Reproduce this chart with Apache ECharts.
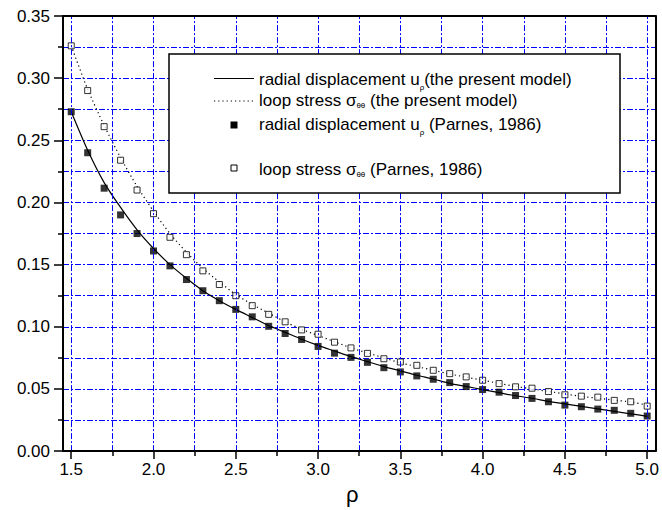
<!DOCTYPE html>
<html>
<head>
<meta charset="utf-8">
<title>Radial displacement and loop stress vs ρ</title>
<script src="https://cdn.jsdelivr.net/npm/echarts@6/dist/echarts.min.js"></script>
<style>
  html, body { margin: 0; padding: 0; background: #fff; }
  #chart { width: 662px; height: 510px; }
</style>
</head>
<body>
<div id="chart"></div>
<script>
// Radius values where both models were evaluated
const rho = [1.5, 1.6, 1.7, 1.8, 1.9, 2.0, 2.1, 2.2, 2.3, 2.4, 2.5, 2.6, 2.7, 2.8, 2.9, 3.0, 3.1, 3.2,
             3.3, 3.4, 3.5, 3.6, 3.7, 3.8, 3.9, 4.0, 4.1, 4.2, 4.3, 4.4, 4.5, 4.6, 4.7, 4.8, 4.9, 5.0];

// Present model: radial displacement u_ρ (solid curve)
const uPresent = [0.273, 0.242, 0.216, 0.196, 0.178, 0.163, 0.150, 0.139, 0.129, 0.121, 0.114, 0.1075,
                  0.101, 0.0955, 0.090, 0.085, 0.0805, 0.076, 0.072, 0.068, 0.0645, 0.061, 0.058, 0.0545,
                  0.052, 0.0495, 0.047, 0.0445, 0.0425, 0.040, 0.038, 0.036, 0.034, 0.032, 0.030, 0.028];

// Present model: loop stress σθθ (dotted curve)
const sPresent = [0.326, 0.291, 0.262, 0.236, 0.213, 0.193, 0.175, 0.160, 0.147, 0.136, 0.126, 0.118,
                  0.111, 0.104, 0.098, 0.093, 0.088, 0.083, 0.079, 0.075, 0.071, 0.068, 0.065, 0.062,
                  0.0595, 0.057, 0.0545, 0.052, 0.050, 0.048, 0.046, 0.044, 0.0425, 0.041, 0.0395, 0.037];

// Parnes (1986): radial displacement u_ρ (filled squares)
const uParnes = [0.273, 0.240, 0.2115, 0.190, 0.175, 0.161, 0.149, 0.138, 0.129, 0.121, 0.114, 0.108,
                 0.1004, 0.0946, 0.0898, 0.0842, 0.0788, 0.0754, 0.0714, 0.0671, 0.0637, 0.0605, 0.0578, 0.0551,
                 0.0519, 0.0495, 0.0474, 0.0447, 0.0424, 0.0397, 0.037, 0.0357, 0.0338, 0.0328, 0.0304, 0.0282];

// Parnes (1986): loop stress σθθ (open squares)
const sParnes = [0.326, 0.290, 0.261, 0.234, 0.210, 0.191, 0.172, 0.158, 0.145, 0.134, 0.125, 0.117,
                 0.110, 0.104, 0.0975, 0.094, 0.0876, 0.083, 0.0786, 0.0743, 0.0717, 0.069, 0.065, 0.0623,
                 0.0597, 0.057, 0.0543, 0.0517, 0.0506, 0.0479, 0.0453, 0.0442, 0.0434, 0.0408, 0.0397, 0.0362];

// Axis ticks and vertical grid positions
const xMajorTicks = [1.5, 2.0, 2.5, 3.0, 3.5, 4.0, 4.5, 5.0];
const xMinorTicks = [1.75, 2.25, 2.75, 3.25, 3.75, 4.25, 4.75];
const xGridLines = [1.5, 1.75, 2.0, 2.25, 2.5, 2.75, 3.0, 3.25, 3.5, 3.75, 4.0, 4.25, 4.5, 4.75, 5.0];

const FAMILY = '"Liberation Sans", Arial, Helvetica, sans-serif';
const pairs = ys => rho.map((x, i) => [x, ys[i]]);

// --- legend box built from graphic elements (supports subscripts) ---
const measureCtx = document.createElement('canvas').getContext('2d');
function textWidth(s, size) {
  measureCtx.font = size + 'px ' + FAMILY;
  return measureCtx.measureText(s).width;
}
const MAIN_SIZE = 17, SUB_SIZE = 8;
const MID = 0.3465; // distance of the 'middle' baseline above the alphabetic one, in em
function legendText(x, baseline, parts) {
  const out = [];
  let cx = x;
  parts.forEach(p => {
    const size = p.sub ? SUB_SIZE : MAIN_SIZE;
    const base = baseline + (p.drop || 0);
    out.push({
      type: 'text', x: cx, y: base - MID * size, silent: true, z: 101,
      style: { text: p.text, fontSize: size, fontFamily: FAMILY, fill: '#000',
               align: 'left', verticalAlign: 'middle' }
    });
    cx += textWidth(p.text, size);
  });
  return out;
}

const legendElements = [
  { type: 'rect', x: 169, y: 54, shape: { width: 451, height: 139 }, z: 100, silent: true,
    style: { fill: '#fff', stroke: '#000', lineWidth: 1.5 } },
  { type: 'line', z: 101, silent: true, shape: { x1: 214, y1: 78.5, x2: 254, y2: 78.5 },
    style: { stroke: '#000', lineWidth: 1.2 } },
  { type: 'line', z: 101, silent: true, shape: { x1: 214, y1: 101, x2: 254, y2: 101 },
    style: { stroke: '#000', lineWidth: 1.2, lineDash: [1.2, 3] } },
  { type: 'rect', z: 101, silent: true, x: 230.5, y: 121.5, shape: { width: 7, height: 7 },
    style: { fill: '#000' } },
  { type: 'rect', z: 101, silent: true, x: 231, y: 165, shape: { width: 6, height: 6 },
    style: { fill: '#fff', stroke: '#000', lineWidth: 1 } }
].concat(
  legendText(259, 85, [
    { text: 'radial displacement u' }, { text: 'ρ', sub: true, drop: 5 }, { text: '(the present model)' }
  ]),
  legendText(259, 106.5, [
    { text: 'loop stress σ' }, { text: 'θθ', sub: true, drop: 2 }, { text: ' (the present model)' }
  ]),
  legendText(259, 130, [
    { text: 'radial displacement u' }, { text: 'ρ', sub: true, drop: 5 }, { text: ' (Parnes, 1986)' }
  ]),
  legendText(259, 175, [
    { text: 'loop stress σ' }, { text: 'θθ', sub: true, drop: 2 }, { text: ' (Parnes, 1986)' }
  ])
);

const chart = echarts.init(document.getElementById('chart'), null, { renderer: 'svg' });

const tickStyle = { color: '#000', width: 1.5 };
const labelStyle = { color: '#000', fontSize: 17, fontFamily: FAMILY };
const gridLineStyle = { color: '#0000ff', width: 1, type: [6, 2, 2, 2] };
const frameLine = { show: true, onZero: false, lineStyle: { color: '#000', width: 2 } };

chart.setOption({
  animation: false,
  backgroundColor: '#fff',
  grid: { left: 63, top: 16, width: 595, height: 438, show: false },
  xAxis: [
    {
      type: 'value', min: 1.45, max: 5.05, position: 'bottom', z: 5,
      axisLine: frameLine,
      axisTick: { show: true, inside: false, length: 8, customValues: xMajorTicks, lineStyle: tickStyle },
      axisLabel: Object.assign({ customValues: xMajorTicks, margin: 10,
                                 formatter: v => v.toFixed(1) }, labelStyle),
      splitLine: { show: false },
      name: 'ρ', nameLocation: 'middle', nameGap: 24,
      nameTextStyle: { fontSize: 22, fontFamily: FAMILY, color: '#000', padding: [0, 14, 0, 0] }
    },
    {
      type: 'value', min: 1.45, max: 5.05, position: 'bottom', z: 5,
      axisLine: { show: false },
      axisTick: { show: true, inside: false, length: 5, customValues: xMinorTicks, lineStyle: tickStyle },
      axisLabel: { show: false },
      splitLine: { show: false }
    },
    {
      // top edge of the frame
      type: 'value', min: 1.45, max: 5.05, position: 'top', z: 5,
      axisLine: frameLine, axisTick: { show: false }, axisLabel: { show: false },
      splitLine: { show: false }
    }
  ],
  yAxis: [
    {
      type: 'value', min: 0, max: 0.35, interval: 0.05,
      axisLine: frameLine,
      axisTick: { show: true, inside: false, length: 9, lineStyle: tickStyle },
      minorTick: { show: true, splitNumber: 2, length: 5, lineStyle: tickStyle },
      axisLabel: Object.assign({ margin: 13, formatter: v => v.toFixed(2) }, labelStyle),
      splitLine: { show: true, lineStyle: gridLineStyle },
      minorSplitLine: { show: true, lineStyle: gridLineStyle }
    },
    {
      // right edge of the frame
      type: 'value', min: 0, max: 0.35, position: 'right', z: 5,
      axisLine: frameLine, axisTick: { show: false }, axisLabel: { show: false },
      splitLine: { show: false }
    }
  ],
  series: [
    {
      // vertical grid lines drawn on the x scale
      name: 'grid', type: 'line', data: [], z: 1, silent: true,
      markLine: {
        silent: true, symbol: ['none', 'none'], label: { show: false },
        lineStyle: gridLineStyle, emphasis: { disabled: true },
        data: xGridLines.map(v => ({ xAxis: v }))
      }
    },
    {
      name: 'radial displacement u_ρ (the present model)', type: 'line',
      data: pairs(uPresent), showSymbol: false, symbol: 'none',
      smooth: 0.25, z: 3,
      lineStyle: { color: '#000', width: 1.2, type: 'solid' }
    },
    {
      name: 'loop stress σθθ (the present model)', type: 'line',
      data: pairs(sPresent), showSymbol: false, symbol: 'none',
      smooth: 0.25, z: 3,
      lineStyle: { color: '#000', width: 1.2, type: [1.2, 3] }
    },
    {
      name: 'radial displacement u_ρ (Parnes, 1986)', type: 'scatter',
      data: pairs(uParnes), symbol: 'rect', symbolSize: 7, z: 4,
      itemStyle: { color: '#000' }
    },
    {
      name: 'loop stress σθθ (Parnes, 1986)', type: 'scatter',
      data: pairs(sParnes), symbol: 'rect', symbolSize: 6, z: 4,
      itemStyle: { color: '#fff', borderColor: '#000', borderWidth: 1 }
    }
  ],
  graphic: legendElements
});
</script>
</body>
</html>
